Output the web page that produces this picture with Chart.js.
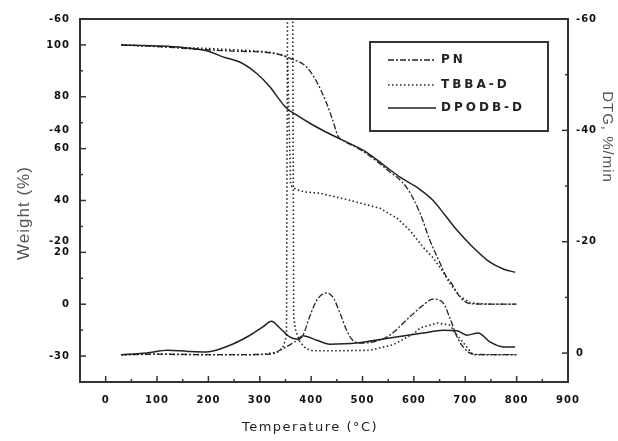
<!DOCTYPE html>
<html><head><meta charset="utf-8">
<script src="https://cdn.jsdelivr.net/npm/chart.js@4/dist/chart.umd.min.js"></script>
<style>html,body{margin:0;padding:0;background:#fff;}#wrap{width:618px;height:441px;}</style>
</head><body><div id="wrap"><canvas id="c" width="618" height="441"></canvas></div>
<script>
// ---- tick labels ----
const xTicks = [0,100,200,300,400,500,600,700,800,900];
const weightTicks = [100,80,60,40,20,0,-20];
const weightTickLabels = ['100','80','60','40','20','0','-30'];
const dtgTicks = [-60,-40,-20,0];
const dtgTickLabels = ['-60','-40','-20','0'];
const leftOverlayTicks = [-60,-40,-20];
const leftOverlayLabels = ['-60','-40','-20'];
const seriesNames = ['PN','TBBA-D','DPODB-D'];

// ---- PN ----
const pnTemp   = [30,100,164,250,326,358,391,411,430,442,452,465,480,508,547,586,612,631,651,664,670,690,709,750,800];
const pnWeight = [100,99.4,98.5,97.6,96.8,94.9,91.5,85.7,77.5,71,65,62.8,61.3,58,52,45,35.1,24.7,15.8,10.4,9,2.7,0.2,0,0];
const pnDtgTemp = [30,100,200,320,339,364,384,397,411,430,442,456,469,481,500,530,553,592,618,637,657,670,684,696,715,760,800];
const pnDtg     = [0.3,0.2,0.3,0.2,-0.5,-1.8,-3.2,-6.5,-9.5,-10.8,-10.1,-7.2,-4.1,-2.3,-1.8,-2.2,-3.2,-6.5,-8.6,-9.7,-9.0,-6.3,-2.9,-1.1,0.2,0.3,0.3];

// ---- TBBA-D ----
const tbTemp   = [30,100,200,300,340,354,357,360,366,375,388,417,475,534,567,592,618,637,655,670,690,710,750,800];
const tbWeight = [100,99.4,98.6,97.6,96.5,95.2,70,46,44.8,44,43.3,42.8,40.1,37,33.2,28.5,22,18,13,8,3,0.5,0,0];
const tbDtgTemp = [30,100,200,300,335,345,352,354,364,366,370,378,390,403,450,514,560,600,612,645,670,684,703,715,760,800];
const tbDtg     = [0.3,0.2,0.3,0.3,-0.2,-1,-3,-65,-65,-6.5,-4,-2,-0.8,-0.4,-0.4,-0.5,-1.5,-3.5,-4.5,-5.4,-5,-3.2,-1.1,0.3,0.3,0.3];

// ---- DPODB-D ----
const dpTemp   = [30,100,150,200,228,261,294,320,339,352,372,400,423,462,508,547,573,610,637,660,684,715,748,775,797];
const dpWeight = [100,99.6,99,97.6,95.4,93.4,89,83.8,78.7,75.6,72.9,69.5,67,63.2,58.6,52.8,49,44.5,40.1,34.5,28.5,22,16.2,13.5,12.3];
const dpDtgTemp = [30,80,120,160,197,242,281,306,323,339,358,372,384,411,436,489,553,618,657,684,703,725,748,774,797];
const dpDtg     = [0.3,0,-0.5,-0.3,-0.2,-1.4,-3.2,-4.7,-5.7,-4.5,-2.9,-2.5,-3.1,-2.3,-1.6,-1.8,-2.7,-3.6,-4.1,-4.0,-3.2,-3.6,-2.0,-1.1,-1.1];

const pts = (xs, ys) => xs.map((v,i)=>({x:v, y:ys[i]}));
const INK = '#222';
const styles = [
  {borderDash:[6,2,2,2], borderWidth:1.3},
  {borderDash:[1.5,2.5], borderWidth:1.6},
  {borderDash:[], borderWidth:1.5}
];
function ds(label, data, axis, st, mono=true){
  return Object.assign({label, data, yAxisID:axis, borderColor:INK, pointRadius:0, fill:false,
    cubicInterpolationMode: mono ? 'monotone' : 'default', tension:0}, st);
}

const overlay = {
  id:'overlay',
  beforeDraw(chart){ chart.ctx.letterSpacing = '1px'; },
  afterDraw(chart){
    const {ctx, chartArea:a, scales:{x,y,y2}} = chart;
    ctx.save();
    ctx.letterSpacing = '0px';
    ctx.strokeStyle = '#333';
    const line=(x1,y1,x2,y2_)=>{ctx.beginPath();ctx.moveTo(x1,y1);ctx.lineTo(x2,y2_);ctx.stroke();};
    ctx.lineWidth = 1.5;
    for (let v=-50; v<=900; v+=50){ const p=x.getPixelForValue(v); const L=(v%100===0)?6:3; line(p,a.bottom,p,a.bottom-L); }
    for (let v=-30; v<=110; v+=10){ const p=y.getPixelForValue(v); const L=(v%20===0)?6:3; line(a.left,p,a.left+L,p); }
    for (let v=-60; v<=0; v+=10){ const p=y2.getPixelForValue(v); const L=(v%20===0)?6:3; line(a.right,p,a.right-L,p); }
    ctx.lineWidth = 2;
    ctx.strokeRect(a.left, a.top, a.right-a.left, a.bottom-a.top);

    // overlaid DTG labels on the left side
    ctx.fillStyle = '#111';
    ctx.font = 'bold 10px "DejaVu Sans"';
    ctx.letterSpacing = '1px';
    ctx.textAlign = 'right'; ctx.textBaseline = 'middle';
    leftOverlayTicks.forEach((v,i)=>ctx.fillText(leftOverlayLabels[i], a.left-10, y2.getPixelForValue(v)));

    // axis titles
    ctx.fillStyle = '#222';
    ctx.font = '13px "DejaVu Sans"'; ctx.letterSpacing = '1.5px';
    ctx.textAlign = 'center'; ctx.textBaseline = 'middle';
    ctx.fillText('Temperature (°C)', 310, 428);
    ctx.fillStyle = '#555'; ctx.letterSpacing = '1px';
    ctx.save(); ctx.translate(24, 213); ctx.rotate(-Math.PI/2);
    ctx.font = '17px "Liberation Sans"'; ctx.fillText('Weight (%)', 0, 0); ctx.restore();
    ctx.save(); ctx.translate(607, 137); ctx.rotate(Math.PI/2);
    ctx.font = '15px "Liberation Sans"'; ctx.fillText('DTG, %/min', 0, 0); ctx.restore();

    // legend
    ctx.strokeStyle = '#333'; ctx.lineWidth = 2;
    ctx.strokeRect(370, 42, 178, 89);
    const rows = [60, 85, 108];
    ctx.font = 'bold 12px "DejaVu Sans"'; ctx.letterSpacing = '3px';
    ctx.textAlign = 'left'; ctx.fillStyle = '#222';
    seriesNames.forEach((n,i)=>{
      ctx.strokeStyle = INK; ctx.lineWidth = styles[i].borderWidth; ctx.setLineDash(styles[i].borderDash);
      line(388, rows[i], 436, rows[i]);
      ctx.setLineDash([]);
      ctx.fillText(n, 441, rows[i]);
    });
    ctx.restore();
  }
};

new Chart(document.getElementById('c'), {
  type:'line',
  data:{datasets:[
    ds(seriesNames[0], pts(pnTemp,pnWeight), 'y', styles[0]),
    ds(seriesNames[0]+' DTG', pts(pnDtgTemp,pnDtg), 'y2', styles[0]),
    ds(seriesNames[1], pts(tbTemp,tbWeight), 'y', styles[1], false),
    ds(seriesNames[1]+' DTG', pts(tbDtgTemp,tbDtg), 'y2', styles[1], false),
    ds(seriesNames[2], pts(dpTemp,dpWeight), 'y', styles[2]),
    ds(seriesNames[2]+' DTG', pts(dpDtgTemp,dpDtg), 'y2', styles[2])
  ]},
  options:{
    responsive:false, animation:false, devicePixelRatio:1,
    layout:{padding:{top:19,left:0,right:0,bottom:0}},
    plugins:{legend:{display:false}, tooltip:{enabled:false}},
    scales:{
      x:{type:'linear', min:-50, max:900, position:'bottom',
         grid:{display:false, drawTicks:false}, border:{display:false},
         afterBuildTicks:s=>{s.ticks = xTicks.map(v=>({value:v}));},
         afterFit:s=>{s.height = 59;},
         ticks:{color:'#111', font:{family:'DejaVu Sans', size:10, weight:'bold'}, padding:12, maxRotation:0, autoSkip:false}},
      y:{type:'linear', min:-30, max:110, position:'left',
         grid:{display:false, drawTicks:false}, border:{display:false},
         afterBuildTicks:s=>{s.ticks = weightTicks.map(v=>({value:v}));},
         afterFit:s=>{s.width = 80;},
         ticks:{color:'#111', font:{family:'DejaVu Sans', size:10, weight:'bold'}, padding:10,
                callback:(v)=>{const i=weightTicks.indexOf(v); return i>=0?weightTickLabels[i]:'';}}},
      y2:{type:'linear', min:-60, max:5.2, reverse:true, position:'right',
         grid:{display:false, drawTicks:false}, border:{display:false},
         afterBuildTicks:s=>{s.ticks = dtgTicks.map(v=>({value:v}));},
         afterFit:s=>{s.width = 50;},
         ticks:{color:'#111', font:{family:'DejaVu Sans', size:10, weight:'bold'}, padding:8,
                callback:(v)=>{const i=dtgTicks.indexOf(v); return i>=0?dtgTickLabels[i]:'';}}}
    }
  },
  plugins:[overlay]
});
</script></body></html>
